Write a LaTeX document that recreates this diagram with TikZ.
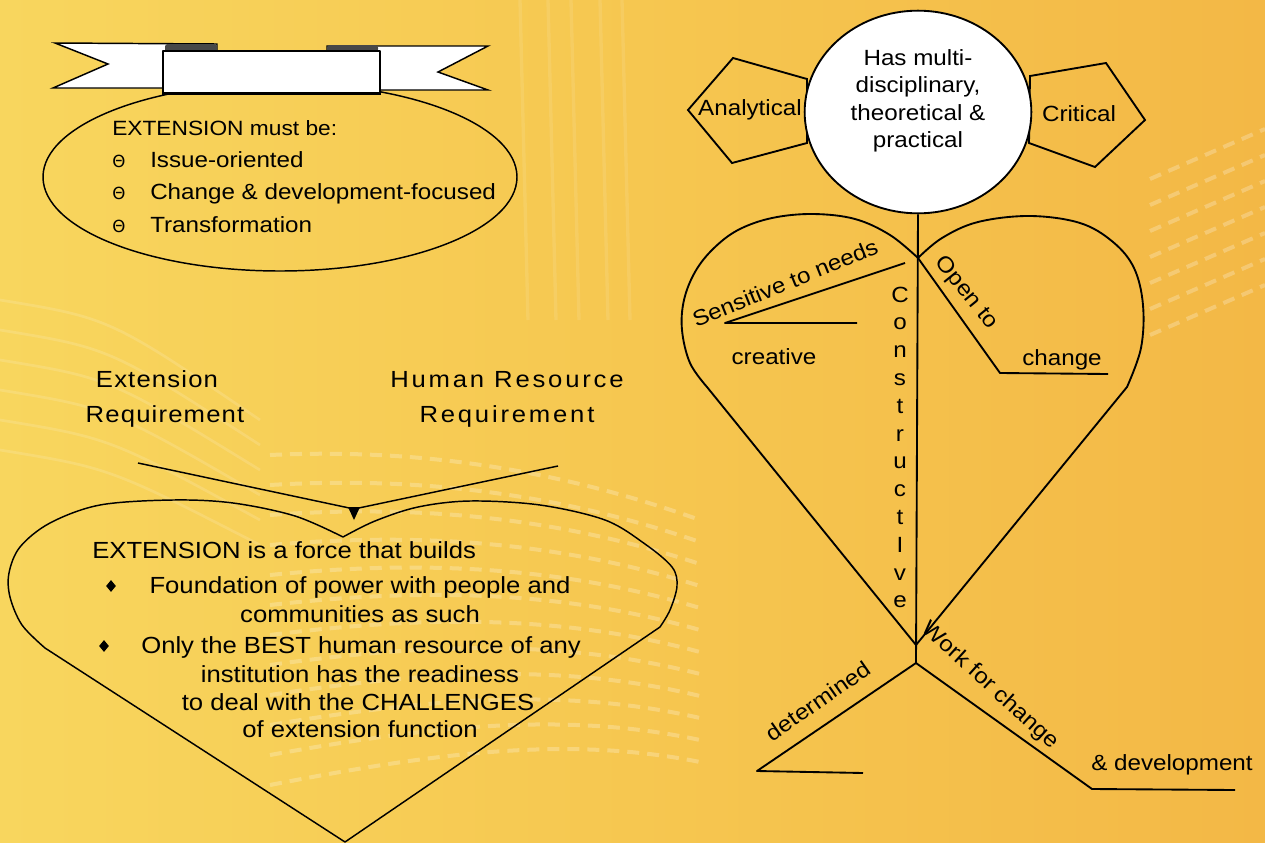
\documentclass[tikz,border=0pt]{standalone}
\usepackage{fontspec}
\setmainfont[FakeStretch=1.1]{Liberation Sans}
\newfontfamily\headfontA[FakeStretch=1.1,LetterSpace=5]{Liberation Sans}
\newfontfamily\headfontB[FakeStretch=1.1,LetterSpace=12]{Liberation Sans}
\newfontfamily\thetafont{DejaVu Sans}
\usetikzlibrary{shapes.geometric}

\definecolor{bgleft}{RGB}{248,214,94}
\definecolor{bgmid}{RGB}{246,199,80}
\definecolor{bgright}{RGB}{243,184,70}
\definecolor{foldgray}{RGB}{72,72,72}

\begin{document}
\begin{tikzpicture}[x=0.75pt, y=-0.75pt,
  line join=round,
  outline/.style={draw=black, line width=1.1pt},
  figline/.style={draw=black, line width=1.4pt},
  streak/.style={draw=white, opacity=0.24, line width=3pt, dash pattern=on 9pt off 6pt},
  figtxt/.style={inner sep=0pt, font=\fontsize{16.5}{20}\selectfont},
  ovaltxt/.style={inner sep=0pt, font=\fontsize{16.5}{20}\selectfont},
  ovalhead/.style={inner sep=0pt, font=\fontsize{15.5}{18}\selectfont},
  thetatxt/.style={inner sep=0pt, font=\thetafont\fontsize{12.5}{14}\selectfont},
  hearttxt/.style={inner sep=0pt, font=\fontsize{17.5}{21}\selectfont},
  headA/.style={inner sep=0pt, font=\headfontA\fontsize{17.5}{20}\selectfont},
  headB/.style={inner sep=0pt, font=\headfontB\fontsize{17.5}{20}\selectfont},
]
\useasboundingbox (0,0) rectangle (1265,843);

% ---------- background ----------
\shade[left color=bgleft, right color=bgright, middle color=bgmid] (0,0) rectangle (1265,843);
\foreach \x in {520,548,571,600,622} {
  \draw[white, opacity=0.10, line width=2.5pt] (\x,0) -- ({\x+8},320);
}
\foreach \k in {0,...,11} {
  \draw[streak] (270,{455+\k*30}) .. controls (420,{448+\k*28}) and (560,{470+\k*24}) .. (700,{520+\k*22});
}
\foreach \k in {0,...,6} {
  \draw[streak] (1150,{335-\k*26}) -- (1265,{285-\k*26});
}
\foreach \k in {0,...,5} {
  \draw[white, opacity=0.14, line width=2pt] (0,{300+\k*30}) .. controls (110,{318+\k*30}) .. (260,{420+\k*25});
}

% ---------- oval with banner ----------
\node[ellipse, outline, minimum width=355.5pt, minimum height=141pt, inner sep=0pt] (oval) at (280,177) {};

\draw[outline, fill=white, line join=miter] (55,43) -- (217,44) -- (217,88) -- (53,88) -- (108,64) -- cycle;
\draw[outline, fill=white, line join=miter] (327,46) -- (488,46) -- (438,72) -- (488,90) -- (327,90) -- cycle;
\fill[foldgray, rounded corners=2pt] (165,44) rectangle (217,52);
\fill[foldgray, rounded corners=2pt] (327,45) rectangle (378,52);
\node[draw=black, line width=1.1pt, fill=white, minimum width=162.75pt, minimum height=31.5pt, inner sep=0pt] (ribbon) at (271.5,72) {};
\draw[line width=1.8pt] (ribbon.south west) -- (ribbon.south east);

\node[ovalhead, anchor=base west] (must) at (112,135) {EXTENSION must be:};
\node[thetatxt, anchor=base west] (th1) at (112,167) {Θ};
\node[thetatxt, anchor=base west] (th2) at (112,199) {Θ};
\node[thetatxt, anchor=base west] (th3) at (112,232) {Θ};
\node[ovaltxt, anchor=base west] (m1) at (150,167) {Issue-oriented};
\node[ovaltxt, anchor=base west] (m2) at (150,199) {Change \& development-focused};
\node[ovaltxt, anchor=base west] (m3) at (150,232) {Transformation};

% ---------- headings ----------
\node[headA, anchor=base] (ext1) at (157,387) {Extension};
\node[headA, anchor=base] (ext2) at (165,422) {Requirement};
\node[headB, anchor=base] (hr1) at (507,387) {Human Resource};
\node[headB, anchor=base] (hr2) at (507,422) {Requirement};

% ---------- converging lines ----------
\coordinate (vl) at (138,463);
\coordinate (vm) at (354,509);
\coordinate (vr) at (558,466);
\draw[outline] (vl) -- (vm) -- (vr);
\fill[shift={(vm)}] (-6,-2) -- (6,-2) -- (0,11) -- cycle;

% ---------- heart (left) ----------
\coordinate (lbot) at (345,842);
\draw[outline] (lbot) -- (45,648)
  -- plot[smooth, tension=0.55] coordinates {(45,648) (22,625) (10,597) (9,573) (20,547) (50,523) (100,505) (173,500) (233,503) (295,516) (343,537)}
  -- plot[smooth, tension=0.55] coordinates {(343,537) (375,521) (418,507) (470,501) (540,505) (605,520) (645,544) (672,567) (677,586) (670,610) (660,627)}
  -- cycle;

\node[hearttxt, anchor=base west] (h0) at (92,558) {EXTENSION is a force that builds};
\node[diamond, fill=black, inner sep=0pt, minimum width=7.5pt, minimum height=9pt] (d1) at (111,586) {};
\node[diamond, fill=black, inner sep=0pt, minimum width=7.5pt, minimum height=9pt] (d2) at (104,646) {};
\node[hearttxt, anchor=base] (h1) at (360,593) {Foundation of power with people and};
\node[hearttxt, anchor=base] (h2) at (360,622) {communities as such};
\node[hearttxt, anchor=base] (h3) at (361,653) {Only the BEST human resource of any};
\node[hearttxt, anchor=base] (h4) at (360,682) {institution has the readiness};
\node[hearttxt, anchor=base] (h5) at (358,710) {to deal with the CHALLENGES};
\node[hearttxt, anchor=base] (h6) at (360,737) {of extension function};

% ---------- figure (right) ----------
\draw[figline, line join=miter] (688,110) -- (733,58) -- (807,79) -- (807,143) -- (732,163) -- cycle;
\draw[figline, line join=miter] (1030,76) -- (1106,63) -- (1145,120) -- (1095,167) -- (1029,143) -- cycle;
\node[figtxt] (ana) at (750,110) {Analytical};
\node[figtxt] (cri) at (1079,114) {Critical};

\node[ellipse, figline, fill=white, minimum width=170pt, minimum height=152pt, inner sep=0pt] (core) at (918,112) {};
\node[figtxt, anchor=base] (c1) at (918,65) {Has multi-};
\node[figtxt, anchor=base] (c2) at (918,92) {disciplinary,};
\node[figtxt, anchor=base] (c3) at (918,120) {theoretical \&};
\node[figtxt, anchor=base] (c4) at (918,147) {practical};

\coordinate (rcusp) at (918,258);
\coordinate (rbot) at (916,645);
\coordinate (rfork) at (916,663);
\draw[figline] (rbot) -- (707,387)
  -- plot[smooth, tension=0.6] coordinates {(707,387) (690,363) (682,330) (684,300) (695,272) (713,249) (738,230) (772,218) (813,214) (855,219) (890,235) (918,258)}
  -- plot[smooth, tension=0.6] coordinates {(918,258) (942,238) (978,222) (1030,216) (1080,223) (1113,242) (1134,268) (1143,305) (1141,348) (1127,387)}
  -- cycle;

\draw[figline] (core.south) -- (rfork);
\draw[figline] (905,263) -- (725,323) -- (857,323);
\draw[figline] (rcusp) -- (1000,373) -- (1108,374);
\draw[figline] (rfork) -- (757,771) -- (863,773);
\draw[figline] (rfork) -- (1092,789) -- (1235,790);

\node[figtxt, rotate=22] (sens) at (785,283) {Sensitive to needs};
\node[figtxt] (creat) at (774,357) {creative};
\node[figtxt, rotate=-51] (open) at (966,293) {Open to};
\node[figtxt] (chg) at (1062,360) {change};
\node[figtxt, rotate=35] (det) at (818,701) {determined};
\node[figtxt, rotate=-42] (work) at (990,686) {Work for change};
\node[figtxt] (dev) at (1172,765) {\& development};

\foreach \ch [count=\i] in {C,o,n,s,t,r,u,c,t,I,v,e} {
  \node[figtxt, anchor=base] (cv\i) at (900,{302+27.8*(\i-1)}) {\ch};
}
\end{tikzpicture}
\end{document}
